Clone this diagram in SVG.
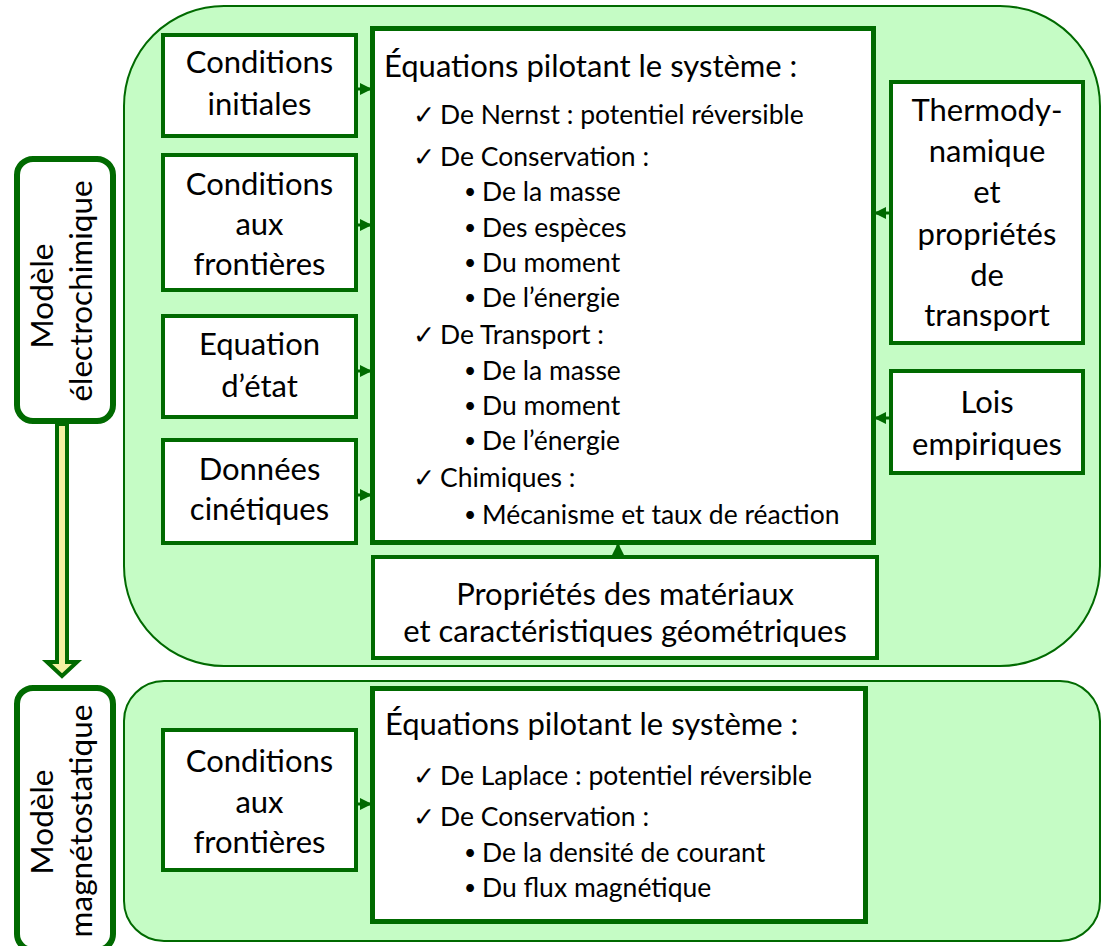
<svg xmlns="http://www.w3.org/2000/svg" width="1104" height="946" viewBox="0 0 1104 946">
<style>
.cont{fill:#c5fcc5;stroke:#006a00;stroke-width:2}
.box{fill:#fff;stroke:#006a00;stroke-width:4}
.main{fill:#fff;stroke:#006a00;stroke-width:5}
.lbl{fill:#fff;stroke:#006a00;stroke-width:6}
text{font-family:Lato,"Open Sans","DejaVu Sans",sans-serif;fill:#000}
.t30{font-size:31px;text-anchor:middle}
.tv{font-size:31.5px;text-anchor:middle}
.tt{font-size:31px}
.li{font-size:26.5px}
.bu{font-size:21px}
.conn{stroke:#006a00;stroke-width:3;fill:none}
</style>
<defs>
<marker id="ah" markerUnits="userSpaceOnUse" markerWidth="12" markerHeight="12" refX="11" refY="6" orient="auto">
<path d="M0,0 L12,6 L0,12 Z" fill="#006a00"/>
</marker>
</defs>

<g id="container-electro"><rect class="cont" x="124" y="6" width="976" height="660" rx="100" ry="100"/></g>
<g id="container-magneto"><rect class="cont" x="124" y="681" width="976" height="260" rx="40" ry="40"/></g>

<g id="label-electro">
<rect class="lbl" x="17" y="159" width="96" height="262" rx="16" ry="16"/>
<text class="tv" transform="translate(53,296) rotate(-90)">Modèle</text>
<text class="tv" transform="translate(92,291) rotate(-90)">électrochimique</text>
</g>
<g id="label-magneto">
<rect class="lbl" x="17" y="688" width="96" height="262" rx="16" ry="16"/>
<text class="tv" transform="translate(53,822) rotate(-90)">Modèle</text>
<text class="tv" transform="translate(92,821) rotate(-90)">magnétostatique</text>
</g>

<g id="big-arrow">
<path d="M57,424 L67,424 L67,662 L77,662 L62,676 L47,662 L57,662 Z" fill="#f3f1a2" stroke="#006a00" stroke-width="4" stroke-linejoin="miter"/>
</g>

<g id="cond-init">
<rect class="box" x="163" y="35" width="193" height="101"/>
<text class="t30" x="259.5" y="73">Conditions</text>
<text class="t30" x="259.5" y="115">initiales</text>
</g>
<g id="cond-front">
<rect class="box" x="163" y="155" width="193" height="135"/>
<text class="t30" x="259.5" y="195">Conditions</text>
<text class="t30" x="259.5" y="235">aux</text>
<text class="t30" x="259.5" y="275">frontières</text>
</g>
<g id="eq-etat">
<rect class="box" x="163" y="316" width="193" height="101"/>
<text class="t30" x="259.5" y="355">Equation</text>
<text class="t30" x="259.5" y="397">d’état</text>
</g>
<g id="donnees">
<rect class="box" x="163" y="440" width="193" height="103"/>
<text class="t30" x="259.5" y="480">Données</text>
<text class="t30" x="259.5" y="520">cinétiques</text>
</g>

<g id="thermo">
<rect class="box" x="891" y="82" width="192" height="261"/>
<text class="t30" x="987" y="121">Thermody-</text>
<text class="t30" x="987" y="162">namique</text>
<text class="t30" x="987" y="203">et</text>
<text class="t30" x="987" y="245">propriétés</text>
<text class="t30" x="987" y="286">de</text>
<text class="t30" x="987" y="326">transport</text>
</g>
<g id="lois">
<rect class="box" x="891" y="371" width="192" height="102"/>
<text class="t30" x="987" y="413">Lois</text>
<text class="t30" x="987" y="455">empiriques</text>
</g>

<g id="proprietes">
<rect class="box" x="373" y="557" width="504" height="101"/>
<text class="t30" x="625" y="605">Propriétés des matériaux</text>
<text class="t30" x="625" y="642">et caractéristiques géométriques</text>
</g>

<g id="equations-electro">
<rect class="main" x="372.5" y="28.5" width="501" height="514"/>
<text class="tt" x="384" y="77">Équations pilotant le système :</text>
<g class="li">
<text x="413" y="124">✓</text><text x="440" y="124">De Nernst : potentiel réversible</text>
<text x="413" y="166">✓</text><text x="440" y="166">De Conservation :</text>
<text class="bu" x="464" y="199">•</text><text x="482" y="201">De la masse</text>
<text class="bu" x="464" y="235">•</text><text x="482" y="237">Des espèces</text>
<text class="bu" x="464" y="270">•</text><text x="482" y="272">Du moment</text>
<text class="bu" x="464" y="305">•</text><text x="482" y="307">De l’énergie</text>
<text x="413" y="344">✓</text><text x="440" y="344">De Transport :</text>
<text class="bu" x="464" y="378">•</text><text x="482" y="380">De la masse</text>
<text class="bu" x="464" y="413">•</text><text x="482" y="415">Du moment</text>
<text class="bu" x="464" y="448">•</text><text x="482" y="450">De l’énergie</text>
<text x="413" y="487">✓</text><text x="440" y="487">Chimiques :</text>
<text class="bu" x="464" y="522">•</text><text x="482" y="524">Mécanisme et taux de réaction</text>
</g>
</g>

<g id="cond-front-mag">
<rect class="box" x="163" y="730" width="193" height="140"/>
<text class="t30" x="259.5" y="772">Conditions</text>
<text class="t30" x="259.5" y="813">aux</text>
<text class="t30" x="259.5" y="853">frontières</text>
</g>
<g id="equations-mag">
<rect class="main" x="372.5" y="688.5" width="493" height="233"/>
<text class="tt" x="385" y="735">Équations pilotant le système :</text>
<g class="li">
<text x="413" y="785">✓</text><text x="440" y="785">De Laplace : potentiel réversible</text>
<text x="413" y="826">✓</text><text x="440" y="826">De Conservation :</text>
<text class="bu" x="464" y="860">•</text><text x="482" y="862">De la densité de courant</text>
<text class="bu" x="464" y="895">•</text><text x="482" y="897">Du flux magnétique</text>
</g>
</g>

<g id="connectors">
<line class="conn" x1="356" y1="89" x2="371" y2="89" marker-end="url(#ah)"/>
<line class="conn" x1="356" y1="225" x2="371" y2="225" marker-end="url(#ah)"/>
<line class="conn" x1="356" y1="371" x2="371" y2="371" marker-end="url(#ah)"/>
<line class="conn" x1="356" y1="495" x2="371" y2="495" marker-end="url(#ah)"/>
<line class="conn" x1="891" y1="213" x2="875" y2="213" marker-end="url(#ah)"/>
<line class="conn" x1="891" y1="418" x2="875" y2="418" marker-end="url(#ah)"/>
<line class="conn" x1="618" y1="557" x2="618" y2="544" marker-end="url(#ah)"/>
<line class="conn" x1="356" y1="804" x2="371" y2="804" marker-end="url(#ah)"/>
</g>
</svg>
